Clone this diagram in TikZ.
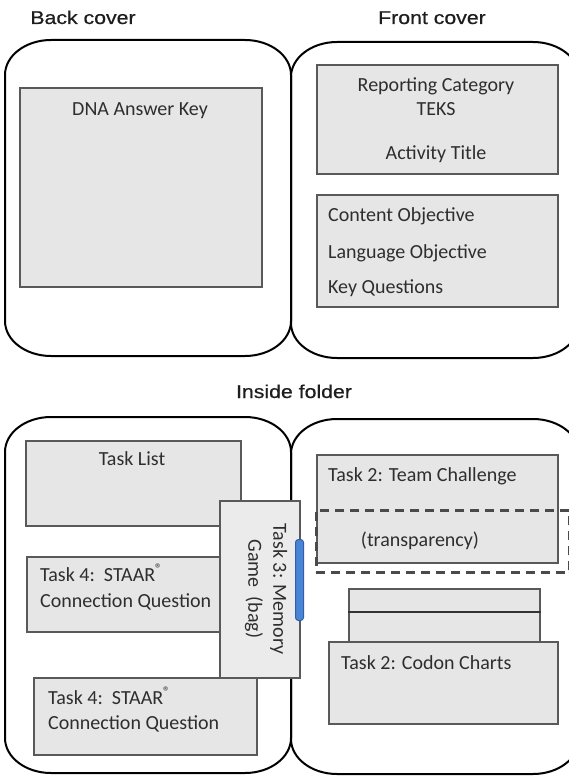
\documentclass[tikz,border=0pt]{standalone}
\usepackage{fontspec}
\setmainfont{Carlito}
\newfontfamily\headfont[FakeStretch=1.15,FakeBold=0.6]{Liberation Sans}
\definecolor{boxfill}{HTML}{E6E6E6}
\definecolor{memfill}{HTML}{EBEBEB}
\definecolor{boxline}{HTML}{595959}
\definecolor{dashcol}{HTML}{4A4A4A}
\definecolor{txt}{HTML}{2E2E2E}
\definecolor{hdrtxt}{HTML}{1E1E1E}
\definecolor{bagblue}{HTML}{4A84D6}
\definecolor{bagedge}{HTML}{2F5FA8}
\def\pnrx{46}
\def\pnry{35}
\def\pnkx{25.4}
\def\pnky{19.3}
\newcommand\panelpath[4]{%
  \draw[panelline] ({#1+\pnrx},#2) -- ({#3-\pnrx},#2)
   .. controls ({#3-\pnrx+\pnkx},#2) and (#3,{#2+\pnry-\pnky}) .. (#3,{#2+\pnry})
   -- (#3,{#4-\pnry})
   .. controls (#3,{#4-\pnry+\pnky}) and ({#3-\pnrx+\pnkx},#4) .. ({#3-\pnrx},#4)
   -- ({#1+\pnrx},#4)
   .. controls ({#1+\pnrx-\pnkx},#4) and (#1,{#4-\pnry+\pnky}) .. (#1,{#4-\pnry})
   -- (#1,{#2+\pnry})
   .. controls (#1,{#2+\pnry-\pnky}) and ({#1+\pnrx-\pnkx},#2) .. ({#1+\pnrx},#2) -- cycle;}
\begin{document}
\begin{tikzpicture}[x=1pt,y=-1pt,
  panelline/.style={draw=black,line width=2pt},
  box/.style={draw=boxline,fill=boxfill,line width=1.6pt,inner sep=0pt,anchor=north west},
  hdr/.style={font=\headfont\fontsize{18.5}{22}\selectfont,text=hdrtxt,anchor=base,inner sep=0pt},
  lbl/.style={font=\fontsize{20}{25}\selectfont,text=txt,anchor=base,inner sep=0pt},
  lbll/.style={lbl,anchor=base west},
  dashline/.style={draw=dashcol,line width=2.6pt,dash pattern=on 9pt off 6pt,inner sep=0pt,anchor=north west}]
\useasboundingbox (0,0) rectangle (569,776);
\clip (0,0) rectangle (569,776);
\fill[white] (0,0) rectangle (569,776);

% headings
\node[hdr] (backlbl) at (83,24) {Back cover};
\node[hdr] (frontlbl) at (432,24) {Front cover};
\node[hdr] (insidelbl) at (294,398) {Inside folder};

% outer folder panels
\panelpath{5}{40}{291}{356}
\panelpath{291}{42}{579}{358}
\panelpath{5}{417}{291}{773}
\panelpath{291}{419}{579}{774}

% back cover
\node[box,minimum width=242,minimum height=199] (dna) at (19,87) {};
\node[lbl] (dnatxt) at (140,115) {DNA Answer Key};

% front cover
\node[box,minimum width=241,minimum height=109] (rep) at (316,64) {};
\node[lbl] (reptxt) at (436,91) {Reporting Category};
\node[lbl] (tekstxt) at (436,115) {TEKS};
\node[lbl] (titletxt) at (436,159) {Activity Title};
\node[box,minimum width=241,minimum height=112] (obj) at (316,194) {};
\node[lbll] (cobj) at (328,221) {Content Objective};
\node[lbll] (lobj) at (328,258) {Language Objective};
\node[lbll] (keyq) at (328,293) {Key Questions};

% inside left
\node[box,minimum width=215,minimum height=85] (tasklist) at (25,440) {};
\node[lbl] (tasklisttxt) at (132,465) {Task List};
\node[box,minimum width=200,minimum height=75] (staarA) at (26,556) {};
\node[lbll] (staarAa) at (40,581) {Task 4:\ \ STAAR\textsuperscript{®}};
\node[lbll] (staarAb) at (40,607) {Connection Question};
\node[box,fill=memfill,minimum width=80,minimum height=177] (memory) at (219,500) {};
\node[lbl,anchor=center,rotate=-90,align=center] (memtxt) at (266,589) {Task 3: Memory\\Game\ \ (bag)};
\node[box,minimum width=223,minimum height=77] (staarB) at (33,677) {};
\node[lbll] (staarBa) at (48,704) {Task 4:\ \ STAAR\textsuperscript{®}};
\node[lbll] (staarBb) at (48,729) {Connection Question};
\node[draw=bagedge,fill=bagblue,line width=1pt,rounded corners=3pt,inner sep=0pt,anchor=north west,minimum width=8,minimum height=81] (bag) at (295,539) {};

% inside right
\node[box,minimum width=241,minimum height=108] (team) at (316,454) {};
\node[lbll] (teamtxt) at (328,481) {Task 2: Team Challenge};
\node[dashline,minimum width=253,minimum height=62] (transp) at (315,509) {};
\node[lbl] (transptxt) at (420,546) {(transparency)};
\node[box,minimum width=191,minimum height=54] (stack) at (348,588) {};
\draw[draw=black!80,line width=1.6pt] ([yshift=-24pt]stack.north west) -- ([yshift=-24pt]stack.north east);
\node[box,minimum width=229,minimum height=82] (codon) at (328,641) {};
\node[lbll] (codontxt) at (341,669) {Task 2: Codon Charts};
\end{tikzpicture}
\end{document}
